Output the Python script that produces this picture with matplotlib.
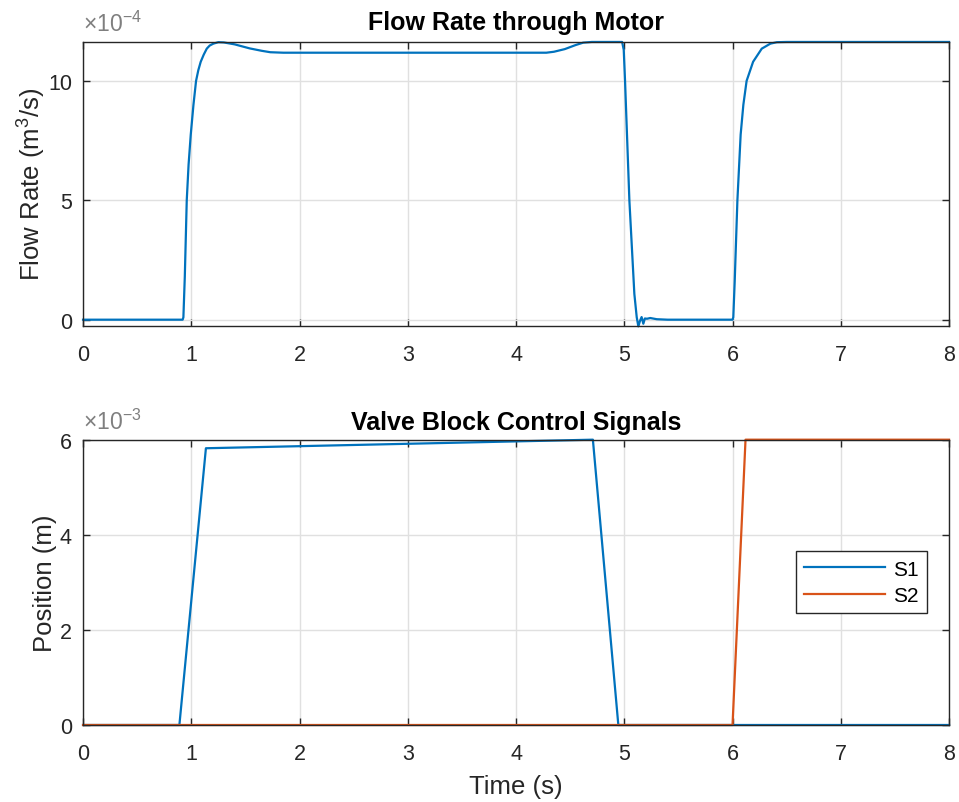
import matplotlib
matplotlib.use("Agg")
from matplotlib import pyplot as plt

# flow rate through motor, values shown in units of 1e-4 m^3/s
flow_t = [0, 0.92, 0.927, 0.94, 0.958, 0.975, 0.995, 1.02, 1.044, 1.065, 1.087, 1.115,
          1.143, 1.17, 1.204, 1.25, 1.3, 1.4, 1.54, 1.65, 1.73, 1.85, 4.28, 4.35, 4.45,
          4.55, 4.62, 4.7, 4.98, 4.995, 5.007, 5.047, 5.093, 5.115, 5.13, 5.145, 5.16,
          5.176, 5.19, 5.21, 5.24, 5.3, 5.4, 6.0, 6.007, 6.02, 6.045, 6.075, 6.1, 6.13,
          6.19, 6.27, 6.35, 6.41, 6.5, 8.0]
flow_q = [0, 0, 0.1, 1.8, 5.0, 6.5, 7.75, 9.0, 10.0, 10.45, 10.8, 11.1,
          11.35, 11.48, 11.56, 11.62, 11.61, 11.53, 11.36, 11.26, 11.2, 11.18, 11.18, 11.22, 11.33,
          11.5, 11.6, 11.63, 11.63, 11.3, 10.0, 5.0, 1.08, 0.1, -0.28, -0.05, 0.11,
          -0.17, 0.05, 0.04, 0.07, 0.02, 0.0, 0.0, 0.1, 1.6, 5.0, 7.75, 9.0, 10.0,
          10.8, 11.35, 11.56, 11.62, 11.63, 11.63]

# valve block control signals, values in units of 1e-3 m
s1_t = [0, 0.89, 1.135, 4.71, 4.945, 8.0]
s1_x = [0, 0, 5.82, 6.0, 0, 0]
s2_t = [0, 6.0, 6.12, 8.0]
s2_x = [0, 0, 6.0, 6.0]

ticks_x = [0, 1, 2, 3, 4, 5, 6, 7, 8]

plt.rcParams['font.family'] = ['Liberation Sans', 'DejaVu Sans']
plt.rcParams['mathtext.fontset'] = 'custom'
plt.rcParams['mathtext.rm'] = 'Liberation Sans'
plt.rcParams['mathtext.it'] = 'Liberation Sans'

grey = '#262626'
fig = plt.figure(figsize=(9.59, 8.03), dpi=100)
ax1 = fig.add_axes([0.0866, 0.5932, 0.903, 0.3536])
ax2 = fig.add_axes([0.0866, 0.0959, 0.903, 0.3553])


def style(ax, yticks, exp):
    ax.set_xlim(0, 8)
    ax.set_xticks(ticks_x)
    ax.set_yticks(yticks)
    ax.grid(True, color='#e0e0e0', linewidth=1)
    ax.set_axisbelow(True)
    ax.tick_params(direction='in', top=True, right=True, labelsize=15.5, colors=grey,
                   length=5, width=1)
    ax.tick_params(axis='x', pad=13)
    ax.tick_params(axis='y', pad=8)
    for s in ax.spines.values():
        s.set_color(grey)
        s.set_linewidth(1)
    ax.text(0, 1.02, r'$\times10^{' + exp + '}$', transform=ax.transAxes,
            fontsize=16.5, color='#7f7f7f', va='bottom', ha='left')


ax1.plot(flow_t, flow_q, color='#0072BD', linewidth=1.6, clip_on=False)
style(ax1, [0, 5, 10], '-4')
ax1.set_ylim(-0.25, 11.64)
ax1.set_title('Flow Rate through Motor', fontsize=18, fontweight='bold', pad=9)
ax1.set_ylabel('Flow Rate (m$^3$/s)', fontsize=18.5, color=grey, labelpad=0)

ax2.plot(s1_t, s1_x, color='#0072BD', linewidth=1.6, label='S1', clip_on=False)
ax2.plot(s2_t, s2_x, color='#D95319', linewidth=1.6, label='S2', clip_on=False)
style(ax2, [0, 2, 4, 6], '-3')
ax2.set_ylim(0, 6)
ax2.set_title('Valve Block Control Signals', fontsize=18, fontweight='bold', pad=8)
ax2.set_ylabel('Position (m)', fontsize=18.5, color=grey, labelpad=2)
ax2.set_xlabel('Time (s)', fontsize=18.5, color=grey, labelpad=7)
leg = ax2.legend(loc='center right', bbox_to_anchor=(0.975, 0.5), fontsize=15,
                 fancybox=False, framealpha=1, edgecolor=grey, handlelength=3.9,
                 handletextpad=0.4, borderaxespad=0, labelspacing=0.35)
leg.get_frame().set_linewidth(1)

fig.savefig('out.png', dpi=100)
